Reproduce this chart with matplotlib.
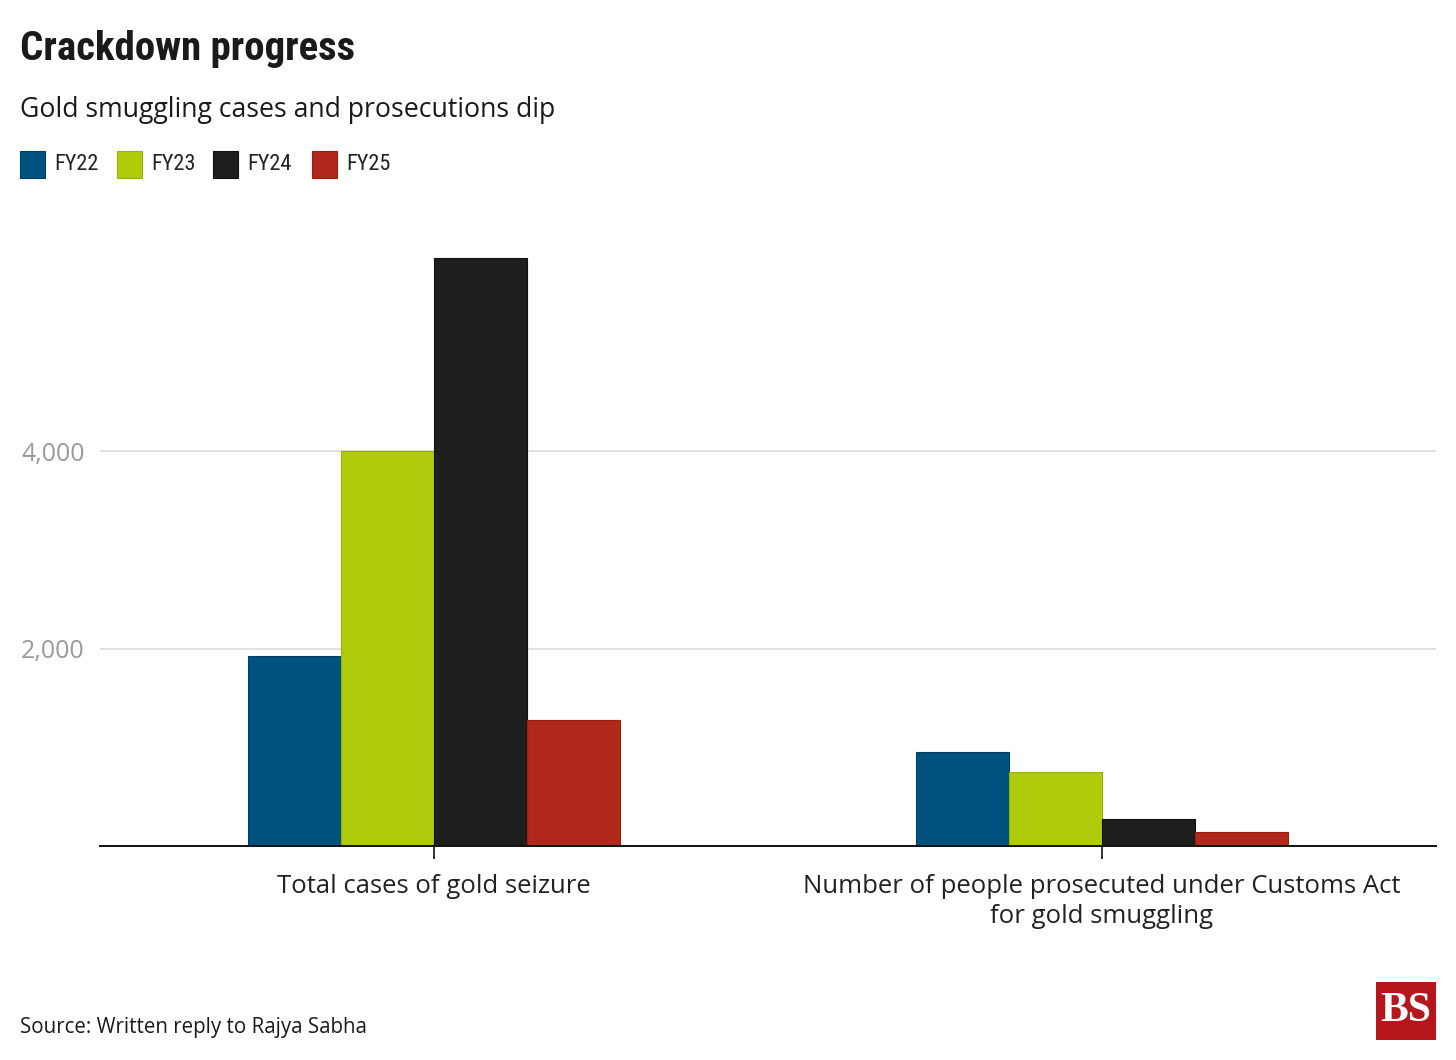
import matplotlib
matplotlib.use("Agg")
import matplotlib.pyplot as plt
from matplotlib.patches import Rectangle
from matplotlib import font_manager
import numpy as np

categories = ["Total cases of gold seizure",
              "Number of people prosecuted under Customs Act\nfor gold smuggling"]
series_names = ["FY22", "FY23", "FY24", "FY25"]
fy22 = [1924, 952]
fy23 = [4005, 749]
fy24 = [5950, 276]
fy25 = [1276, 146]
series_values = [fy22, fy23, fy24, fy25]
colors = ["#00527e", "#b0cb0b", "#1e1e1c", "#b0291a"]
edge_colors = ["#003f63", "#98b000", "#111111", "#9a1f12"]
y_ticks = [2000, 4000]
y_tick_labels = ["2,000", "4,000"]

W, H = 1456, 1060
fig = plt.figure(figsize=(W / 100, H / 100), dpi=100)
fig.patch.set_facecolor("white")

installed = {f.name for f in font_manager.fontManager.ttflist}
body = ["Open Sans", "DejaVu Sans"]
narrow_pref = [n for n in ["Roboto Condensed", "Open Sans Condensed", "Liberation Sans Narrow"] if n in installed]
narrow = narrow_pref + ["Open Sans", "DejaVu Sans"]
title_size = 29.4 if narrow_pref else 25.5
leg_size = 16 if narrow_pref else 15

left, right = 100, 1436
base_y = 846
top_y = 846 - 592.5
ax = fig.add_axes([left / W, 1 - base_y / H, (right - left) / W, (base_y - top_y) / H])
ax.set_xlim(-0.5, 1.5)
ax.set_ylim(0, 6000)

x = np.arange(len(categories))
bw = 0.139
for i, (vals, c, ec) in enumerate(zip(series_values, colors, edge_colors)):
    ax.bar(x + (i - 1.5) * bw, vals, width=bw, color=c, edgecolor=ec,
           linewidth=0.8, zorder=3)

ax.set_yticks(y_ticks)
ax.set_yticklabels(y_tick_labels, fontfamily=body, fontsize=18, color="#9a9a9a")
ax.yaxis.grid(True, color="#dddddd", linewidth=1.2, zorder=0)
ax.tick_params(axis="y", length=0, pad=11)
ax.set_xticks(x)
ax.set_xticklabels(categories, fontfamily=body, fontsize=18.5, color="#222222",
                   linespacing=1.3)
ax.tick_params(axis="x", length=9, width=1.2, color="#111111", pad=11)
for s in ["top", "right", "left"]:
    ax.spines[s].set_visible(False)
ax.spines["bottom"].set_color("#111111")
ax.spines["bottom"].set_linewidth(1.4)
ax.spines["bottom"].set_zorder(4)

# Title and subtitle
fig.text(20 / W, 1 - 49 / H, "Crackdown progress", fontfamily=narrow,
         fontweight="bold", fontsize=title_size, color="#1a1a1a", va="center", ha="left")
fig.text(20 / W, 1 - 110 / H, "Gold smuggling cases and prosecutions dip",
         fontfamily=body, fontsize=19.2, color="#1a1a1a", va="center", ha="left")

# Legend
leg_x = [20, 117, 213, 312]
for lx, name, c, ec in zip(leg_x, series_names, colors, edge_colors):
    fig.patches.append(Rectangle((lx / W, 1 - 178 / H), 25 / W, 27 / H,
                                 transform=fig.transFigure, facecolor=c,
                                 edgecolor=ec, linewidth=0.8))
    fig.text((lx + 34) / W, 1 - 165 / H, name, fontfamily=narrow, fontsize=leg_size,
             color="#222222", va="center", ha="left")

# Source
fig.text(20 / W, 1 - 1027 / H, "Source: Written reply to Rajya Sabha",
         fontfamily=body, fontsize=14.8, color="#1a1a1a", va="center", ha="left")

# BS logo
fig.patches.append(Rectangle((1376 / W, 1 - 1040 / H), 60 / W, 58 / H,
                             transform=fig.transFigure, facecolor="#b5161b",
                             edgecolor="none"))
fig.text(1406 / W, 1 - 1011 / H, "BS", fontfamily=["Liberation Serif", "DejaVu Serif"],
         fontsize=30, color="white", va="center", ha="center", fontweight="bold")

fig.savefig("out.png", dpi=100, facecolor="white")
